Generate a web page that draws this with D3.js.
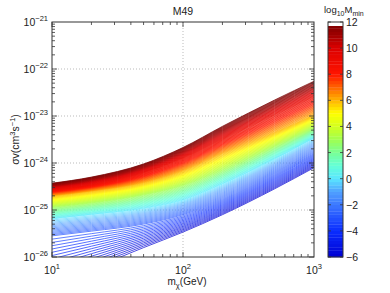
<!DOCTYPE html>
<html>
<head>
<meta charset="utf-8">
<script src="https://cdn.jsdelivr.net/npm/d3@7"></script>
<style>
  body { margin: 0; background: #fff; }
  svg { font-family: "Liberation Sans", Arial, sans-serif; }
</style>
</head>
<body>
<div id="chart"></div>
<script>
// masses (GeV) where the limit curves were read
const masses = [10, 20, 50, 100, 200, 500, 1000];
// log10 Mmin of the anchor curves
const mminLevels = [-6, -3, 0, 3, 6, 9, 12];
// log10 sigma v (cm^3 s^-1) for each anchor curve
const logSigmaM6 = [-26.6, -26.25, -25.8, -25.47, -25.1, -24.55, -24.1];
const logSigmaM3 = [-25.55, -25.45, -25.3, -25.1, -24.78, -24.23, -23.8];
const logSigma0 = [-25.19, -25.1, -24.97, -24.79, -24.45, -23.92, -23.47];
const logSigma3 = [-24.94, -24.85, -24.68, -24.48, -24.15, -23.65, -23.25];
const logSigma6 = [-24.7, -24.6, -24.42, -24.17, -23.8, -23.35, -22.98];
const logSigma9 = [-24.57, -24.46, -24.21, -23.9, -23.5, -22.98, -22.6];
const logSigma12 = [-24.43, -24.3, -24.02, -23.67, -23.22, -22.66, -22.26];
const anchorCurves = [logSigmaM6, logSigmaM3, logSigma0, logSigma3, logSigma6, logSigma9, logSigma12];

const xTicks = [1, 2, 3];          // exponents of 10
const yTicks = [-26, -25, -24, -23, -22, -21];
const cbTicks = [-6, -4, -2, 0, 2, 4, 6, 8, 10, 12];

// colour map stops for log10 Mmin
const cmapStops = [-6, -4, -2, -1, 0, 1, 2, 3, 4, 5, 6, 7, 8, 10, 11, 12];
const cmapColors = ["#0000d2", "#0a2dff", "#3c78ff", "#50a0ff", "#5ae6ff", "#64ffd7", "#78ff96",
  "#a0ff50", "#d2ff1e", "#ffff00", "#ffb400", "#ff6400", "#ff1400", "#dc0000", "#a00000", "#780000"];

const svgWidth = 390, svgHeight = 293;
const margin = { left: 52, right: 76, top: 22, bottom: 36 };
const width = svgWidth - margin.right;   // right edge of plot
const height = svgHeight - margin.bottom; // bottom edge of plot

const svg = d3.select("#chart")
    .append("svg")
    .attr("width", svgWidth)
    .attr("height", svgHeight);

const x = d3.scaleLog().domain([10, 1000]).range([margin.left, width]);
const y = d3.scaleLog().domain([1e-26, 1e-21]).range([height, margin.top]);
const color = d3.scaleLinear().domain(cmapStops).range(cmapColors).clamp(true);

svg.append("clipPath").attr("id", "clip")
    .append("rect")
    .attr("x", margin.left).attr("y", margin.top)
    .attr("width", width - margin.left).attr("height", height - margin.top);

// grid lines (dotted)
const grid = svg.append("g").attr("stroke", "#aaa").attr("stroke-dasharray", "1,2").attr("stroke-width", 0.8);
yTicks.slice(1, -1).forEach(e => {
    grid.append("line").attr("x1", margin.left).attr("x2", width)
        .attr("y1", y(Math.pow(10, e))).attr("y2", y(Math.pow(10, e)));
});
grid.append("line").attr("y1", margin.top).attr("y2", height)
    .attr("x1", x(100)).attr("x2", x(100));

// contour lines: one curve per level of log10 Mmin, between anchor curves
const line = d3.line()
    .x(d => x(d[0]))
    .y(d => y(d[1]))
    .curve(d3.curveMonotoneX);

// looser lines at low Mmin, packed lines at high Mmin
const levels = d3.range(-6, 0, 0.2).concat(d3.range(0, 3, 0.15), d3.range(3, 12.0001, 0.12));
const contours = svg.append("g").attr("clip-path", "url(#clip)");
levels.forEach(L => {
    let i = d3.bisectRight(mminLevels, L) - 1;
    if (i >= mminLevels.length - 1) i = mminLevels.length - 2;
    const t = (L - mminLevels[i]) / (mminLevels[i + 1] - mminLevels[i]);
    const a = anchorCurves[i], b = anchorCurves[i + 1];
    const pts = masses.map((m, k) => [m, Math.pow(10, a[k] + (b[k] - a[k]) * t)]);
    contours.append("path")
        .datum(pts)
        .attr("fill", "none")
        .attr("stroke", color(L))
        .attr("stroke-width", 0.7)
        .attr("d", line);
});

// axes box
const axisColor = "#333";
svg.append("rect")
    .attr("x", margin.left).attr("y", margin.top)
    .attr("width", width - margin.left).attr("height", height - margin.top)
    .attr("fill", "none").attr("stroke", axisColor).attr("stroke-width", 1);

// ticks (inside, both sides)
const ticks = svg.append("g").attr("stroke", axisColor).attr("stroke-width", 0.8);
for (let e = 1; e < 3; e++) {
    for (let k = 1; k < 10; k++) {
        const v = k * Math.pow(10, e);
        const len = k === 1 ? 5 : 3;
        ticks.append("line").attr("x1", x(v)).attr("x2", x(v)).attr("y1", height).attr("y2", height - len);
        ticks.append("line").attr("x1", x(v)).attr("x2", x(v)).attr("y1", margin.top).attr("y2", margin.top + len);
    }
}
for (let e = -26; e < -21; e++) {
    for (let k = 1; k < 10; k++) {
        const v = k * Math.pow(10, e);
        const len = k === 1 ? 5 : 3;
        ticks.append("line").attr("y1", y(v)).attr("y2", y(v)).attr("x1", margin.left).attr("x2", margin.left + len);
        ticks.append("line").attr("y1", y(v)).attr("y2", y(v)).attr("x1", width).attr("x2", width - len);
    }
}

// tick labels
xTicks.forEach(e => {
    const t = svg.append("text")
        .attr("x", x(Math.pow(10, e)))
        .attr("y", 274)
        .attr("text-anchor", "middle")
        .attr("font-size", 10.5)
        .attr("fill", "#222");
    t.append("tspan").text("10");
    t.append("tspan").attr("dy", -5).attr("font-size", 7.5).text(e);
});
yTicks.forEach(e => {
    const t = svg.append("text")
        .attr("x", 48)
        .attr("y", y(Math.pow(10, e)) + 4)
        .attr("text-anchor", "end")
        .attr("font-size", 10.5)
        .attr("fill", "#222");
    t.append("tspan").text("10");
    t.append("tspan").attr("dy", -5).attr("font-size", 7.5).text("\u2212" + (-e));
});

// title and axis labels
svg.append("text")
    .attr("x", (margin.left + width) / 2)
    .attr("y", 15)
    .attr("text-anchor", "middle")
    .attr("font-size", 10.5)
    .attr("fill", "#222")
    .text("M49");

const xl = svg.append("text")
    .attr("x", 187)
    .attr("y", 285)
    .attr("text-anchor", "middle")
    .attr("font-size", 10)
    .attr("fill", "#222");
xl.append("tspan").text("m");
xl.append("tspan").attr("dy", 3).attr("font-size", 7.5).text("\u03c7");
xl.append("tspan").attr("dy", -3).text("(GeV)");

const yl = svg.append("text")
    .attr("transform", `translate(19, ${(margin.top + height) / 2}) rotate(-90)`)
    .attr("text-anchor", "middle")
    .attr("font-size", 10.5)
    .attr("fill", "#222");
yl.append("tspan").text("\u03c3v(cm");
yl.append("tspan").attr("dy", -4).attr("font-size", 7.5).text("3");
yl.append("tspan").attr("dy", 4).text("s");
yl.append("tspan").attr("dy", -4).attr("font-size", 7.5).text("\u22121");
yl.append("tspan").attr("dy", 4).text(")");

// colorbar
const cbX = 328, cbW = 15;
const cbScale = d3.scaleLinear().domain([-6, 12]).range([height, margin.top]);
const cbTop = -6 + 18 * (height - margin.top - 4) / (height - margin.top); // white cap at the top
const cbSteps = d3.range(-6, cbTop, 0.25);
svg.append("g").selectAll("rect")
    .data(cbSteps)
    .enter().append("rect")
    .attr("x", cbX)
    .attr("y", d => cbScale(Math.min(d + 0.25, cbTop)))
    .attr("width", cbW)
    .attr("height", d => cbScale(d) - cbScale(Math.min(d + 0.25, cbTop)) + 0.3)
    .attr("fill", d => color(d + 0.125));
svg.append("rect")
    .attr("x", cbX).attr("y", margin.top)
    .attr("width", cbW).attr("height", height - margin.top)
    .attr("fill", "none").attr("stroke", axisColor).attr("stroke-width", 1);
cbTicks.forEach(v => {
    svg.append("line").attr("x1", cbX).attr("x2", cbX + 3)
        .attr("y1", cbScale(v)).attr("y2", cbScale(v)).attr("stroke", axisColor).attr("stroke-width", 0.8);
    svg.append("line").attr("x1", cbX + cbW).attr("x2", cbX + cbW - 3)
        .attr("y1", cbScale(v)).attr("y2", cbScale(v)).attr("stroke", axisColor).attr("stroke-width", 0.8);
    svg.append("text")
        .attr("x", cbX + cbW + 3)
        .attr("y", cbScale(v) + 4)
        .attr("font-size", 10.5)
        .attr("fill", "#222")
        .text(v < 0 ? "\u2212" + (-v) : v);
});
const cl = svg.append("text")
    .attr("x", 324)
    .attr("y", 13)
    .attr("font-size", 9.5)
    .attr("fill", "#222");
cl.append("tspan").text("log");
cl.append("tspan").attr("dy", 3).attr("font-size", 7).text("10");
cl.append("tspan").attr("dy", -3).text("M");
cl.append("tspan").attr("dy", 3).attr("font-size", 7).text("min");
</script>
</body>
</html>
